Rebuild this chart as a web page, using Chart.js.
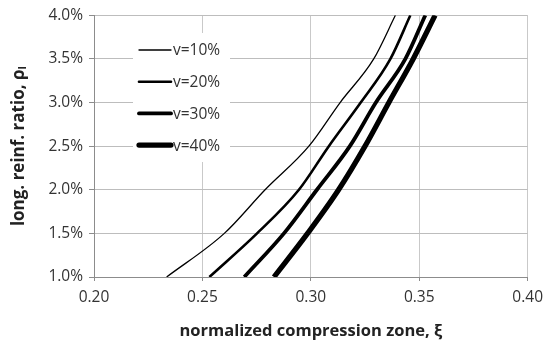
<!DOCTYPE html>
<html>
<head>
<meta charset="utf-8">
<script src="https://cdn.jsdelivr.net/npm/chart.js@4/dist/chart.umd.min.js"></script>
<style>
  html, body { margin: 0; padding: 0; background: #fff; }
  #wrap { width: 550px; height: 346px; }
</style>
</head>
<body>
<div id="wrap"><canvas id="chart" width="550" height="346"></canvas></div>
<script>
// reinforcement ratio (%) at which the curves were read
const rho = [1.0, 1.5, 2.0, 2.5, 3.0, 3.5, 4.0];

// normalized compression zone for each axial load level
const xi10 = [0.2335, 0.2601, 0.2789, 0.2991, 0.3135, 0.3290, 0.3390];
const xi20 = [0.2532, 0.2752, 0.2945, 0.3083, 0.3230, 0.3367, 0.3459];
const xi30 = [0.2693, 0.2876, 0.3028, 0.3180, 0.3300, 0.3436, 0.3528];
const xi40 = [0.2830, 0.2985, 0.3128, 0.3250, 0.3360, 0.3472, 0.3573];

const seriesLabels = ["v=10%", "v=20%", "v=30%", "v=40%"];
const widths = [1.3, 2.6, 3.8, 5.2];

const FONT = "'Open Sans', 'DejaVu Sans', sans-serif";
const TXT = "#333333";

function pts(xs) {
  return xs.map((x, i) => ({ x: x, y: rho[i] }));
}

const datasets = [xi10, xi20, xi30, xi40].map((xs, i) => ({
  label: seriesLabels[i],
  data: pts(xs),
  borderColor: "#000",
  backgroundColor: "#000",
  borderWidth: widths[i],
  pointRadius: 0,
  cubicInterpolationMode: "monotone",
  showLine: true,
  fill: false
}));

// legend box drawn inside the plot, upper left
const boxLegend = {
  id: "boxLegend",
  afterDatasetsDraw(chart) {
    const ctx = chart.ctx;
    ctx.save();
    ctx.fillStyle = "#fff";
    ctx.fillRect(133, 33, 97, 129);
    ctx.font = "15.5px " + FONT;
    ctx.textBaseline = "middle";
    ctx.textAlign = "left";
    chart.data.datasets.forEach((ds, i) => {
      const y = 50 + i * 31.7;
      ctx.strokeStyle = "#000";
      ctx.lineWidth = ds.borderWidth;
      ctx.lineCap = "round";
      ctx.beginPath();
      ctx.moveTo(139, y);
      ctx.lineTo(171, y);
      ctx.stroke();
      ctx.fillStyle = TXT;
      ctx.fillText(ds.label, 173, y + 1);
    });
    ctx.restore();
  }
};

new Chart(document.getElementById("chart"), {
  type: "scatter",
  data: { datasets: datasets },
  options: {
    responsive: false,
    animation: false,
    layout: { padding: { left: 9, right: 20, top: 14, bottom: 5 } },
    plugins: {
      legend: { display: false },
      tooltip: { enabled: false }
    },
    scales: {
      x: {
        type: "linear",
        min: 0.20,
        max: 0.40,
        afterFit(scale) { scale.height = 64; },
        ticks: {
          stepSize: 0.01,
          autoSkip: false,
          maxRotation: 0,
          padding: 7,
          color: TXT,
          font: { family: FONT, size: 15.5 },
          callback: v => (Math.round(v * 100) % 5 === 0 ? v.toFixed(2) : null)
        },
        grid: { color: "#c9c9c9", lineWidth: 1, tickLength: 4, tickColor: "#8c8c8c" },
        border: { color: "#8c8c8c", width: 1 },
        title: {
          display: true,
          text: "normalized compression zone, ξ",
          color: "#222",
          font: { family: FONT, size: 16.5, weight: "bold" },
          padding: { top: 6, bottom: 0 }
        }
      },
      y: {
        type: "linear",
        min: 1.0,
        max: 4.0,
        afterFit(scale) { scale.width = 85; },
        ticks: {
          stepSize: 0.5,
          padding: 6,
          color: TXT,
          font: { family: FONT, size: 15.5 },
          callback: v => v.toFixed(1) + "%"
        },
        grid: { color: "#bdbdbd", lineWidth: 1, tickLength: 5, tickColor: "#8c8c8c" },
        border: { color: "#8c8c8c", width: 1 },
        title: {
          display: true,
          text: "long. reinf. ratio, ρₗ",
          color: "#222",
          font: { family: FONT, size: 17, weight: "bold" },
          padding: { top: 0, bottom: 2 }
        }
      }
    }
  },
  plugins: [boxLegend]
});
</script>
</body>
</html>
